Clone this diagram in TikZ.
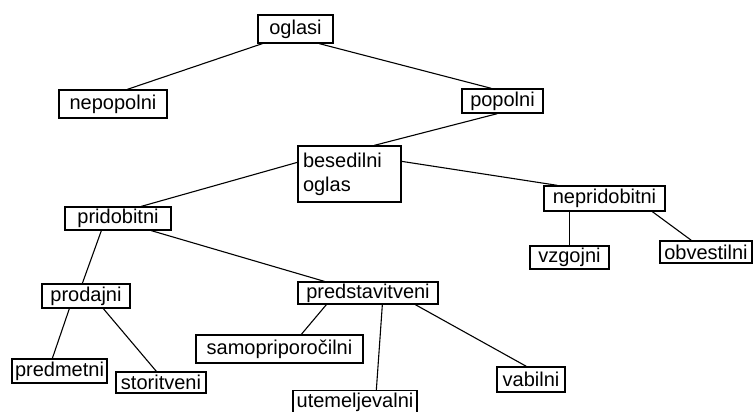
\documentclass[tikz,border=0pt]{standalone}
\usepackage{fontspec}
\setmainfont{Liberation Sans}
\begin{document}
\begin{tikzpicture}[x=1pt,y=-1pt,
  box/.style={draw=black,line width=1.3pt,inner sep=0pt,font=\fontsize{20}{24}\selectfont,fill=white},
  conn/.style={draw=black,line width=1.1pt}]
\useasboundingbox (0,0) rectangle (755,412);
\clip (0,0) rectangle (755,412);
\node[box,minimum width=75pt,minimum height=28pt] (oglasi) at (295.5,29) {oglasi};
\node[box,minimum width=108pt,minimum height=28pt] (nepopolni) at (113,104) {nepopolni};
\node[box,minimum width=81pt,minimum height=24pt] (popolni) at (502.5,101) {popolni};
\node[box,minimum width=103pt,minimum height=56pt,text width=93pt,align=left,inner xsep=5pt] (besedilni) at (349.5,174) {besedilni\\oglas};
\node[box,minimum width=121pt,minimum height=25pt] (nepridobitni) at (604.5,198.5) {nepridobitni};
\node[box,minimum width=79pt,minimum height=23pt] (vzgojni) at (569.5,257.5) {vzgojni};
\node[box,minimum width=92pt,minimum height=22pt] (obvestilni) at (706,252) {obvestilni};
\node[box,minimum width=106pt,minimum height=23pt] (pridobitni) at (118,218.5) {pridobitni};
\node[box,minimum width=88pt,minimum height=24pt] (prodajni) at (86,296) {prodajni};
\node[box,minimum width=95pt,minimum height=24pt] (predmetni) at (59.5,371) {predmetni};
\node[box,minimum width=90pt,minimum height=21pt] (storitveni) at (161,382.5) {storitveni};
\node[box,minimum width=167pt,minimum height=28pt] (samo) at (279.5,349) {samopriporočilni};
\node[box,minimum width=140pt,minimum height=22pt] (predst) at (368,293) {predstavitveni};
\node[box,minimum width=68pt,minimum height=25pt] (vabilni) at (531,379.5) {vabilni};
\node[box,minimum width=124pt,minimum height=24pt] (utem) at (355,402.5) {utemeljevalni};
\draw[conn] ([xshift=5pt]oglasi.south west) -- ([xshift=69pt]nepopolni.north west);
\draw[conn] ([xshift=62pt]oglasi.south west) -- ([xshift=30pt]popolni.north west);
\draw[conn] ([xshift=36pt]popolni.south west) -- ([xshift=77pt]besedilni.north west);
\draw[conn] ([yshift=-17pt]besedilni.north west) -- ([xshift=77pt]pridobitni.north west);
\draw[conn] ([yshift=-16pt]besedilni.north east) -- ([xshift=14pt]nepridobitni.north west);
\draw[conn] ([xshift=26pt]nepridobitni.south west) -- ([xshift=40pt]vzgojni.north west);
\draw[conn] ([xshift=109pt]nepridobitni.south west) -- ([xshift=32pt]obvestilni.north west);
\draw[conn] ([xshift=37pt]pridobitni.south west) -- ([xshift=41pt]prodajni.north west);
\draw[conn] ([xshift=87pt]pridobitni.south west) -- ([xshift=27pt]predst.north west);
\draw[conn] ([xshift=28pt]prodajni.south west) -- ([xshift=41pt]predmetni.north west);
\draw[conn] ([xshift=62pt]prodajni.south west) -- ([xshift=41pt]storitveni.north west);
\draw[conn] ([xshift=29pt]predst.south west) -- ([xshift=106pt]samo.north west);
\draw[conn] ([xshift=85pt]predst.south west) -- ([xshift=84pt]utem.north west);
\draw[conn] ([xshift=118pt]predst.south west) -- ([xshift=30pt]vabilni.north west);
\end{tikzpicture}
\end{document}
